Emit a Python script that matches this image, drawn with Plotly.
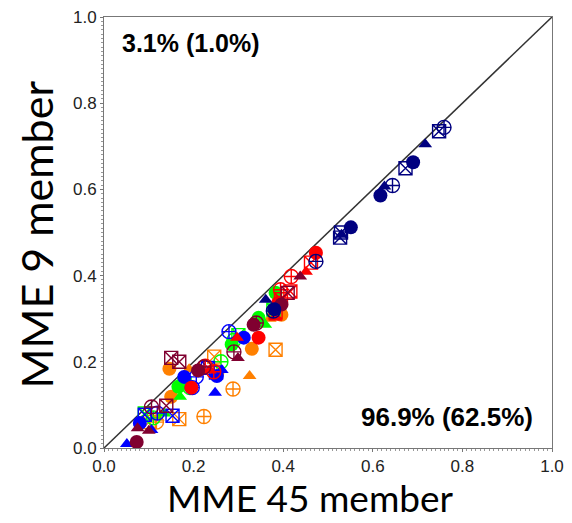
import plotly.graph_objects as go

# symbol codes: c = filled circle, t = filled triangle, cc = circle with cross, sx = square with X
NAVY_X = [0.551, 0.617, 0.690, 0.380, 0.361, 0.530, 0.626, 0.717, 0.378, 0.473, 0.644, 0.759, 0.527, 0.529, 0.673, 0.748]
NAVY_Y = [0.512, 0.586, 0.663, 0.322, 0.344, 0.495, 0.607, 0.705, 0.318, 0.433, 0.609, 0.744, 0.488, 0.500, 0.649, 0.735]
NAVY_S = ["c"] * 4 + ["t"] * 4 + ["cc"] * 4 + ["sx"] * 4

BLUE_X = [0.080, 0.179, 0.252, 0.312, 0.051, 0.106, 0.248, 0.263, 0.119, 0.197, 0.206, 0.279, 0.091, 0.153, 0.232, 0.250]
BLUE_Y = [0.058, 0.165, 0.167, 0.256, 0.009, 0.042, 0.128, 0.181, 0.081, 0.140, 0.165, 0.270, 0.077, 0.075, 0.186, 0.175]
BLUE_S = ["c"] * 4 + ["t"] * 4 + ["cc"] * 4 + ["sx"] * 4

GREEN_X = [0.166, 0.285, 0.345, 0.383, 0.135, 0.170, 0.212, 0.360, 0.110, 0.192, 0.261, 0.290, 0.091, 0.180, 0.300, 0.378]
GREEN_Y = [0.142, 0.240, 0.302, 0.360, 0.080, 0.119, 0.186, 0.286, 0.070, 0.140, 0.200, 0.250, 0.080, 0.150, 0.262, 0.321]
GREEN_S = ["c"] * 4 + ["t"] * 4 + ["cc"] * 4 + ["sx"] * 4

ORANGE_X = [0.146, 0.150, 0.330, 0.396, 0.120, 0.190, 0.325, 0.370, 0.117, 0.223, 0.252, 0.288, 0.100, 0.168, 0.246, 0.383]
ORANGE_Y = [0.184, 0.119, 0.230, 0.309, 0.070, 0.183, 0.167, 0.300, 0.060, 0.073, 0.177, 0.137, 0.060, 0.067, 0.212, 0.228]
ORANGE_S = ["c"] * 4 + ["t"] * 4 + ["cc"] * 4 + ["sx"] * 4

RED_X = [0.195, 0.345, 0.389, 0.473, 0.236, 0.297, 0.383, 0.451, 0.226, 0.245, 0.394, 0.418, 0.383, 0.395, 0.416, 0.462]
RED_Y = [0.140, 0.256, 0.337, 0.453, 0.180, 0.256, 0.302, 0.409, 0.190, 0.177, 0.367, 0.398, 0.314, 0.345, 0.363, 0.430]
RED_S = ["c"] * 4 + ["t"] * 4 + ["cc"] * 4 + ["sx"] * 4

MAROON_X = [0.073, 0.210, 0.334, 0.396, 0.075, 0.100, 0.299, 0.438, 0.106, 0.223, 0.290, 0.340, 0.139, 0.150, 0.168, 0.410]
MAROON_Y = [0.014, 0.180, 0.286, 0.333, 0.046, 0.040, 0.209, 0.398, 0.095, 0.188, 0.223, 0.290, 0.098, 0.209, 0.200, 0.360]
MAROON_S = ["c"] * 4 + ["t"] * 4 + ["cc"] * 4 + ["sx"] * 4

TICKS = [0.0, 0.2, 0.4, 0.6, 0.8, 1.0]
TICK_TEXT = ["0.0", "0.2", "0.4", "0.6", "0.8", "1.0"]
X_TITLE = "MME 45 member"
Y_TITLE = "MME 9 member"
TEXT_ABOVE = "3.1% (1.0%)"
TEXT_BELOW = "96.9% (62.5%)"

SYM = {"c": "circle", "t": "triangle-up", "cc": "circle-cross-open", "sx": "square-x-open"}
SIZE = {"c": 14, "t": 12, "cc": 14, "sx": 13}

groups = [
    ("orange", "#ff8000", ORANGE_X, ORANGE_Y, ORANGE_S),
    ("green", "#00ff00", GREEN_X, GREEN_Y, GREEN_S),
    ("blue", "#0000ff", BLUE_X, BLUE_Y, BLUE_S),
    ("red", "#ff0000", RED_X, RED_Y, RED_S),
    ("maroon", "#800030", MAROON_X, MAROON_Y, MAROON_S),
    ("navy", "#000080", NAVY_X, NAVY_Y, NAVY_S),
]

fig = go.Figure()

fig.add_trace(go.Scatter(x=[0, 1], y=[0, 1], mode="lines",
                         line=dict(color="#333333", width=1.5), hoverinfo="skip", showlegend=False))

for name, col, xs, ys, ss in groups:
    for code in ["c", "t", "cc", "sx"]:
        px = [x for x, s in zip(xs, ss) if s == code]
        py = [y for y, s in zip(ys, ss) if s == code]
        fig.add_trace(go.Scatter(
            x=px, y=py, mode="markers", name=f"{name} {code}", showlegend=False,
            marker=dict(symbol=SYM[code], size=SIZE[code], color=col,
                        line=dict(color=col, width=1.4 if code in ("cc", "sx") else 0)),
        ))

axis_common = dict(
    range=[0, 1], tickvals=TICKS, ticktext=TICK_TEXT, showgrid=False, zeroline=False,
    showline=True, linecolor="#777777", linewidth=1, mirror=True,
    ticks="outside", ticklen=3, tickcolor="#777777",
    tickfont=dict(family="Liberation Sans, Arial, sans-serif", size=17, color="#222222"),
    ticklabeloverflow="allow",
    minor=dict(ticks="outside", ticklen=2, dtick=0.01, tickcolor="#999999"),
    fixedrange=True,
)

fig.update_layout(
    width=572, height=523,
    margin=dict(l=104, r=8, t=16, b=75),
    paper_bgcolor="white", plot_bgcolor="white",
    xaxis=dict(**axis_common),
    yaxis=dict(**axis_common),
    annotations=[
        dict(text=f"<b>{TEXT_ABOVE}</b>", xref="paper", yref="paper", x=0.036, y=0.94,
             xanchor="left", yanchor="middle", showarrow=False,
             font=dict(family="Liberation Sans, Arial, sans-serif", size=25, color="black")),
        dict(text=f"<b>{TEXT_BELOW}</b>", xref="paper", yref="paper", x=0.962, y=0.072,
             xanchor="right", yanchor="middle", showarrow=False,
             font=dict(family="Liberation Sans, Arial, sans-serif", size=26, color="black")),
        dict(text=X_TITLE, xref="paper", yref="paper", x=0.46, y=-0.1713,
             xanchor="center", yanchor="bottom", showarrow=False,
             font=dict(family="Lato, sans-serif", size=37, color="black")),
        dict(text=Y_TITLE, xref="paper", yref="paper", x=-0.15, y=0.495, textangle=-90,
             xanchor="center", yanchor="middle", showarrow=False,
             font=dict(family="Lato, sans-serif", size=43, color="black")),
    ],
)

fig.write_html("out.html")
